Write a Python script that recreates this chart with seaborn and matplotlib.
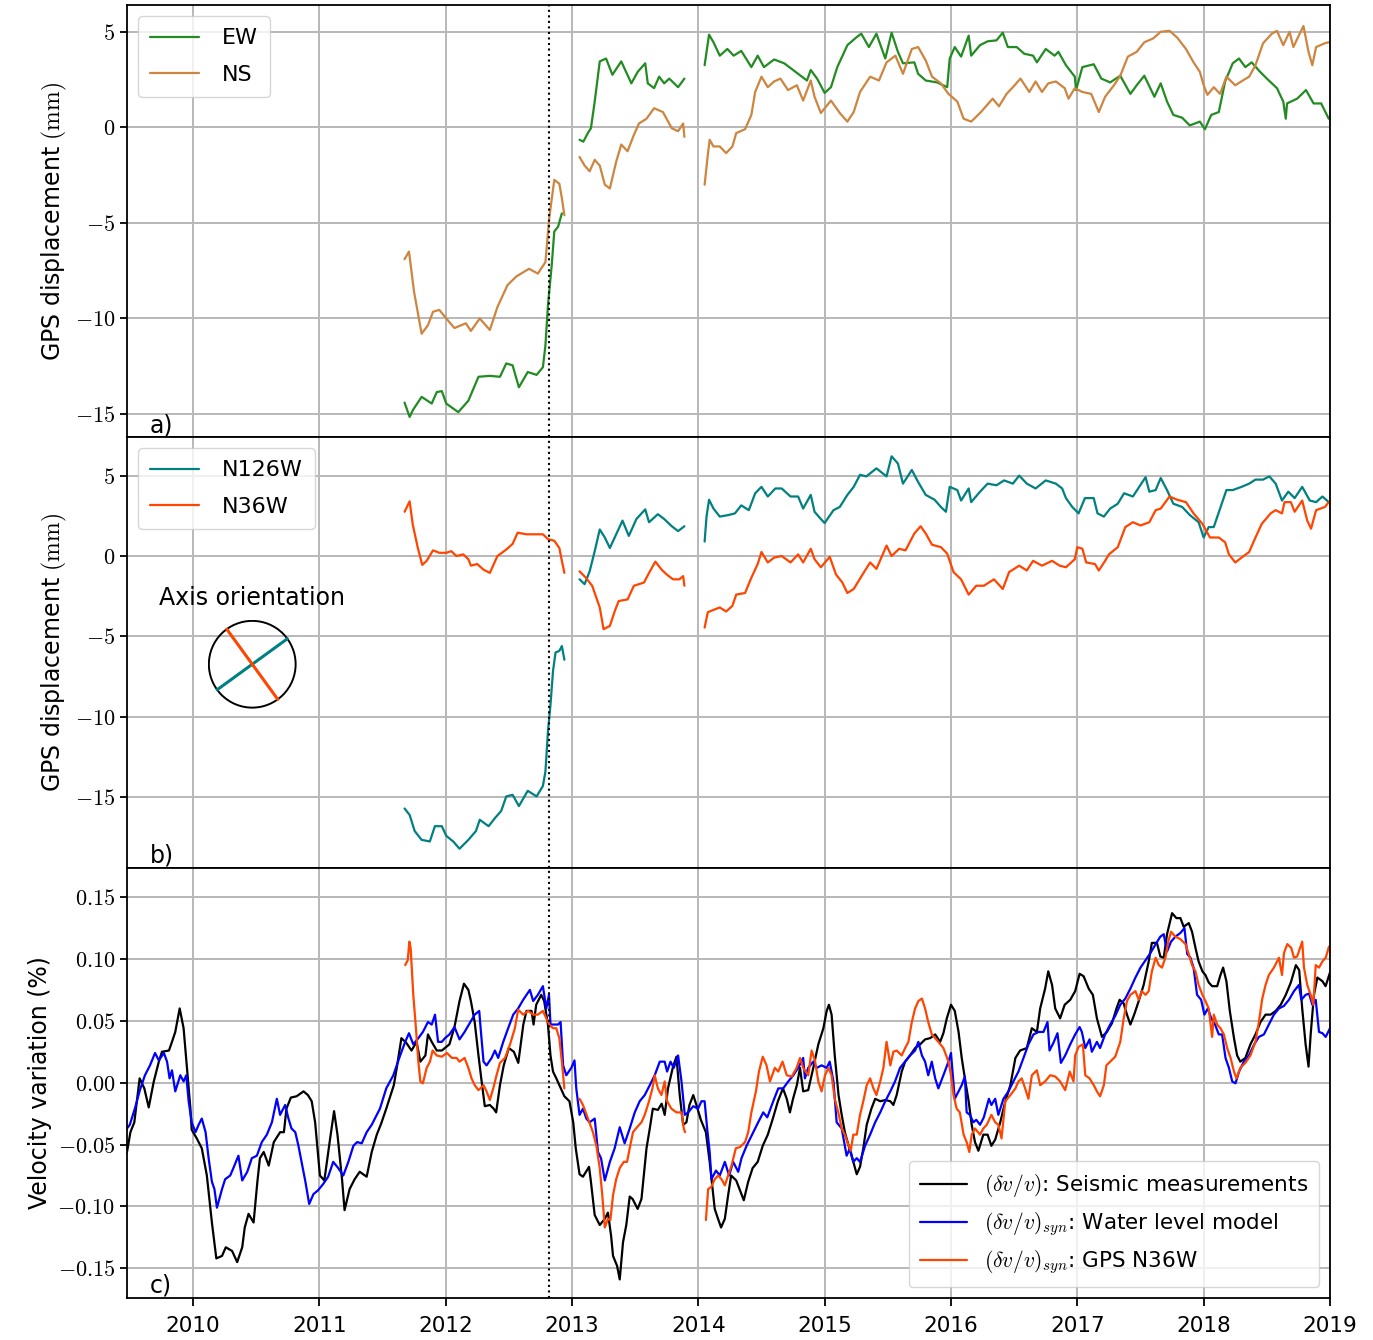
import numpy as np
import pandas as pd
import matplotlib
matplotlib.use('Agg')
import matplotlib.pyplot as plt
from matplotlib.lines import Line2D
from matplotlib.ticker import FuncFormatter
import seaborn as sns

# ---- data: (decimal year, value), one list per continuous segment ----
ew = [
    [(2011.675, -14.4), (2011.715, -15.15), (2011.74, -14.8), (2011.81, -14.1), (2011.89, -14.45),
     (2011.93, -13.85), (2011.97, -13.8), (2012.005, -14.45), (2012.1, -14.9), (2012.18, -14.3),
     (2012.26, -13.05), (2012.35, -13.0), (2012.43, -13.05), (2012.48, -12.35), (2012.53, -12.45),
     (2012.58, -13.6), (2012.65, -12.8), (2012.72, -12.95), (2012.77, -12.55), (2012.79, -11.4),
     (2012.81, -9.3), (2012.84, -7.2), (2012.86, -5.45), (2012.89, -5.2), (2012.92, -4.5)],
    [(2013.06, -0.65), (2013.09, -0.75), (2013.13, -0.25), (2013.15, -0.05), (2013.18, 1.35),
     (2013.22, 3.45), (2013.27, 3.6), (2013.32, 2.75), (2013.39, 3.45), (2013.47, 2.3),
     (2013.52, 2.9), (2013.58, 3.35), (2013.6, 2.3), (2013.65, 2.05), (2013.69, 2.65),
     (2013.73, 2.3), (2013.77, 2.55), (2013.84, 2.1), (2013.89, 2.55)],
    [(2014.05, 3.25), (2014.085, 4.85), (2014.12, 4.45), (2014.17, 3.75), (2014.23, 4.1),
     (2014.28, 3.75), (2014.34, 4.0), (2014.42, 3.15), (2014.47, 3.75), (2014.52, 3.15),
     (2014.6, 3.55), (2014.68, 3.35), (2014.74, 3.05), (2014.81, 2.7), (2014.86, 2.45),
     (2014.89, 3.0), (2014.94, 2.55), (2015.0, 1.8), (2015.05, 2.1), (2015.1, 3.15),
     (2015.18, 4.3), (2015.25, 4.7), (2015.29, 4.9), (2015.35, 4.2), (2015.41, 4.9),
     (2015.48, 3.6), (2015.53, 4.95), (2015.58, 3.95), (2015.62, 3.35), (2015.71, 3.4),
     (2015.74, 2.8), (2015.8, 2.45), (2015.89, 2.35), (2015.97, 2.1), (2015.99, 3.6),
     (2016.03, 4.2), (2016.08, 3.7), (2016.14, 4.8), (2016.16, 3.75), (2016.23, 4.3),
     (2016.29, 4.5), (2016.36, 4.55), (2016.41, 4.95), (2016.45, 4.2), (2016.52, 4.2),
     (2016.58, 3.85), (2016.65, 3.75), (2016.68, 3.4), (2016.75, 4.1), (2016.82, 3.75),
     (2016.85, 3.95), (2016.91, 3.25), (2016.98, 2.65), (2016.99, 1.95), (2017.04, 3.15),
     (2017.13, 3.3), (2017.19, 2.55), (2017.26, 2.35), (2017.34, 2.7), (2017.42, 1.75),
     (2017.47, 2.2), (2017.53, 2.7), (2017.61, 1.6), (2017.66, 2.3), (2017.71, 1.35),
     (2017.76, 0.65), (2017.83, 0.5), (2017.89, 0.1), (2017.97, 0.3), (2018.01, -0.1),
     (2018.06, 0.65), (2018.12, 0.8), (2018.17, 2.4), (2018.23, 3.35), (2018.28, 3.6),
     (2018.33, 3.15), (2018.38, 3.4), (2018.44, 2.95), (2018.5, 2.55), (2018.58, 2.05),
     (2018.63, 1.35), (2018.65, 0.45), (2018.66, 1.25), (2018.74, 1.5), (2018.81, 1.95),
     (2018.87, 1.25), (2018.93, 1.25), (2018.99, 0.45)],
]

ns = [
    [(2011.675, -6.9), (2011.71, -6.5), (2011.75, -8.6), (2011.81, -10.8), (2011.86, -10.35),
     (2011.9, -9.65), (2011.95, -9.55), (2012.005, -10.0), (2012.07, -10.5), (2012.16, -10.25),
     (2012.2, -10.65), (2012.27, -10.0), (2012.35, -10.6), (2012.41, -9.4), (2012.49, -8.25),
     (2012.56, -7.8), (2012.66, -7.4), (2012.73, -7.65), (2012.79, -7.05), (2012.82, -4.75),
     (2012.86, -2.75), (2012.9, -2.95), (2012.92, -3.7), (2012.94, -4.6)],
    [(2013.06, -1.55), (2013.1, -2.0), (2013.14, -2.3), (2013.18, -1.7), (2013.22, -2.0),
     (2013.26, -3.0), (2013.3, -3.2), (2013.35, -1.8), (2013.39, -0.9), (2013.44, -1.25),
     (2013.49, -0.4), (2013.53, 0.2), (2013.59, 0.45), (2013.65, 1.0), (2013.72, 0.8),
     (2013.79, -0.05), (2013.84, -0.2), (2013.88, 0.2), (2013.89, -0.5)],
    [(2014.05, -3.0), (2014.075, -1.45), (2014.09, -0.65), (2014.12, -1.0), (2014.17, -1.0),
     (2014.22, -1.35), (2014.27, -1.0), (2014.3, -0.3), (2014.37, -0.1), (2014.42, 0.65),
     (2014.45, 1.85), (2014.5, 2.65), (2014.55, 2.1), (2014.6, 2.4), (2014.65, 2.55),
     (2014.71, 1.95), (2014.78, 2.2), (2014.83, 1.4), (2014.89, 2.45), (2014.92, 1.6),
     (2014.97, 0.75), (2015.05, 1.4), (2015.12, 0.75), (2015.18, 0.3), (2015.23, 0.8),
     (2015.28, 1.85), (2015.36, 2.65), (2015.43, 2.45), (2015.49, 3.4), (2015.56, 3.75),
     (2015.62, 2.8), (2015.69, 4.1), (2015.74, 4.2), (2015.8, 3.5), (2015.85, 2.65),
     (2015.92, 2.3), (2015.98, 1.75), (2016.05, 1.35), (2016.1, 0.45), (2016.16, 0.3),
     (2016.23, 0.75), (2016.33, 1.5), (2016.38, 1.1), (2016.44, 1.75), (2016.49, 2.1),
     (2016.55, 2.55), (2016.62, 1.85), (2016.67, 2.4), (2016.72, 1.85), (2016.77, 2.3),
     (2016.83, 2.4), (2016.9, 2.05), (2016.93, 1.5), (2016.98, 2.05), (2017.04, 1.85),
     (2017.11, 1.75), (2017.17, 0.8), (2017.22, 1.6), (2017.29, 2.2), (2017.34, 2.7),
     (2017.4, 3.7), (2017.47, 3.95), (2017.53, 4.45), (2017.6, 4.65), (2017.66, 5.0),
     (2017.73, 5.05), (2017.79, 4.7), (2017.86, 4.1), (2017.92, 3.4), (2017.97, 2.9),
     (2018.0, 2.2), (2018.03, 1.7), (2018.08, 2.1), (2018.13, 1.75), (2018.18, 2.65),
     (2018.25, 2.2), (2018.31, 2.45), (2018.36, 2.65), (2018.41, 3.25), (2018.47, 4.4),
     (2018.54, 4.9), (2018.58, 5.05), (2018.63, 4.3), (2018.68, 5.0), (2018.71, 4.2),
     (2018.76, 4.9), (2018.79, 5.3), (2018.83, 3.95), (2018.86, 3.25), (2018.89, 4.2),
     (2018.96, 4.4), (2018.99, 4.45)],
]

n126w = [
    [(2011.675, -15.7), (2011.715, -16.1), (2011.755, -17.1), (2011.81, -17.65), (2011.875, -17.75),
     (2011.915, -16.8), (2011.97, -16.8), (2012.005, -17.4), (2012.06, -17.75), (2012.11, -18.2),
     (2012.18, -17.65), (2012.24, -17.1), (2012.27, -16.4), (2012.34, -16.8), (2012.39, -16.3),
     (2012.44, -15.85), (2012.48, -14.95), (2012.53, -14.85), (2012.58, -15.55), (2012.65, -14.6),
     (2012.72, -14.95), (2012.77, -14.3), (2012.79, -13.4), (2012.81, -10.9), (2012.83, -9.25),
     (2012.85, -7.15), (2012.87, -6.0), (2012.9, -5.9), (2012.92, -5.6), (2012.94, -6.45)],
    [(2013.06, -1.45), (2013.1, -1.75), (2013.14, -0.95), (2013.18, 0.3), (2013.22, 1.65),
     (2013.26, 1.15), (2013.3, 0.5), (2013.35, 1.35), (2013.4, 2.2), (2013.45, 1.25),
     (2013.51, 2.3), (2013.58, 2.9), (2013.61, 2.1), (2013.68, 2.6), (2013.73, 2.3),
     (2013.79, 1.85), (2013.84, 1.55), (2013.89, 1.85)],
    [(2014.05, 0.9), (2014.065, 2.45), (2014.085, 3.5), (2014.12, 2.95), (2014.17, 2.45),
     (2014.24, 2.55), (2014.29, 2.65), (2014.34, 3.15), (2014.4, 2.85), (2014.45, 3.9),
     (2014.5, 4.3), (2014.55, 3.7), (2014.61, 4.2), (2014.66, 4.2), (2014.73, 3.7),
     (2014.79, 3.7), (2014.83, 2.95), (2014.89, 3.8), (2014.92, 2.75), (2014.97, 2.3),
     (2015.0, 2.05), (2015.07, 2.85), (2015.12, 3.05), (2015.18, 3.8), (2015.23, 4.3),
     (2015.28, 5.05), (2015.33, 4.95), (2015.41, 5.45), (2015.49, 4.95), (2015.53, 6.2),
     (2015.58, 5.75), (2015.62, 4.5), (2015.69, 5.35), (2015.74, 4.6), (2015.8, 3.8),
     (2015.87, 3.5), (2015.92, 3.05), (2015.96, 2.75), (2015.99, 4.3), (2016.05, 4.1),
     (2016.08, 3.45), (2016.14, 4.2), (2016.16, 3.35), (2016.23, 4.0), (2016.29, 4.5),
     (2016.36, 4.4), (2016.42, 4.7), (2016.49, 4.5), (2016.54, 5.0), (2016.6, 4.5),
     (2016.67, 4.2), (2016.75, 4.7), (2016.83, 4.5), (2016.88, 4.2), (2016.91, 3.6),
     (2016.96, 3.05), (2017.01, 2.65), (2017.06, 3.6), (2017.13, 3.6), (2017.16, 2.65),
     (2017.21, 2.45), (2017.26, 2.95), (2017.32, 3.25), (2017.37, 3.9), (2017.44, 3.7),
     (2017.49, 4.3), (2017.54, 4.9), (2017.57, 4.0), (2017.62, 4.1), (2017.66, 4.85),
     (2017.71, 4.1), (2017.76, 3.25), (2017.83, 3.05), (2017.89, 2.55), (2017.96, 2.1),
     (2018.0, 1.15), (2018.04, 1.8), (2018.08, 1.8), (2018.13, 2.95), (2018.18, 4.1),
     (2018.23, 4.1), (2018.3, 4.3), (2018.36, 4.5), (2018.41, 4.75), (2018.47, 4.75),
     (2018.52, 4.95), (2018.57, 4.5), (2018.62, 3.45), (2018.67, 4.0), (2018.72, 3.6),
     (2018.78, 4.3), (2018.84, 3.45), (2018.89, 3.35), (2018.94, 3.7), (2018.99, 3.35)],
]

n36w = [
    [(2011.675, 2.75), (2011.715, 3.4), (2011.74, 1.95), (2011.78, 0.5), (2011.815, -0.55),
     (2011.85, -0.3), (2011.9, 0.35), (2011.95, 0.2), (2012.005, 0.2), (2012.045, 0.3),
     (2012.085, 0.0), (2012.14, 0.1), (2012.18, -0.2), (2012.2, -0.6), (2012.25, -0.5),
     (2012.3, -0.85), (2012.35, -1.05), (2012.41, 0.0), (2012.48, 0.4), (2012.53, 0.75),
     (2012.57, 1.45), (2012.64, 1.35), (2012.7, 1.35), (2012.77, 1.35), (2012.81, 1.05),
     (2012.86, 0.95), (2012.9, 0.5), (2012.92, -0.3), (2012.94, -1.05)],
    [(2013.06, -0.95), (2013.11, -1.35), (2013.16, -1.85), (2013.22, -3.2), (2013.25, -4.55),
     (2013.3, -4.35), (2013.34, -3.4), (2013.37, -2.8), (2013.44, -2.7), (2013.49, -1.85),
     (2013.57, -1.65), (2013.61, -1.05), (2013.66, -0.35), (2013.71, -0.85), (2013.75, -1.15),
     (2013.8, -1.45), (2013.85, -1.45), (2013.88, -1.25), (2013.89, -1.85)],
    [(2014.05, -4.45), (2014.075, -3.5), (2014.12, -3.35), (2014.17, -3.2), (2014.22, -3.45),
     (2014.27, -3.1), (2014.3, -2.4), (2014.37, -2.3), (2014.42, -1.35), (2014.47, -0.5),
     (2014.5, 0.25), (2014.55, -0.4), (2014.6, -0.1), (2014.66, 0.0), (2014.73, -0.4),
     (2014.79, 0.1), (2014.83, -0.4), (2014.89, 0.45), (2014.92, -0.2), (2014.97, -0.7),
     (2015.04, -0.05), (2015.09, -1.15), (2015.14, -1.65), (2015.18, -2.3), (2015.23, -2.05),
     (2015.3, -1.15), (2015.36, -0.4), (2015.41, -0.8), (2015.49, 0.65), (2015.53, 0.0),
     (2015.59, 0.45), (2015.64, 0.35), (2015.71, 1.4), (2015.76, 1.85), (2015.8, 1.4),
     (2015.85, 0.7), (2015.92, 0.55), (2015.97, 0.15), (2016.02, -1.0), (2016.08, -1.45),
     (2016.14, -2.4), (2016.2, -1.85), (2016.26, -1.85), (2016.34, -1.45), (2016.41, -2.05),
     (2016.46, -1.0), (2016.54, -0.6), (2016.6, -0.9), (2016.65, -0.3), (2016.72, -0.6),
     (2016.8, -0.3), (2016.86, -0.6), (2016.91, -0.7), (2016.98, -0.2), (2017.0, 0.55),
     (2017.04, 0.45), (2017.07, -0.4), (2017.14, -0.5), (2017.17, -0.9), (2017.22, -0.3),
     (2017.25, 0.1), (2017.32, 0.55), (2017.38, 1.8), (2017.44, 2.1), (2017.5, 1.9),
     (2017.57, 2.1), (2017.62, 2.85), (2017.66, 2.95), (2017.73, 3.7), (2017.79, 3.5),
     (2017.86, 3.35), (2017.92, 2.65), (2017.99, 2.0), (2018.05, 1.15), (2018.12, 1.15),
     (2018.17, 0.85), (2018.2, 0.1), (2018.25, -0.4), (2018.3, -0.1), (2018.36, 0.25),
     (2018.41, 1.15), (2018.46, 2.0), (2018.53, 2.65), (2018.57, 2.85), (2018.62, 2.65),
     (2018.64, 3.35), (2018.69, 3.35), (2018.72, 2.75), (2018.78, 3.45), (2018.82, 2.2),
     (2018.85, 1.7), (2018.89, 2.85), (2018.96, 3.05), (2018.99, 3.35)],
]

seismic = [
    [(2009.478, -0.056), (2009.505, -0.040), (2009.536, -0.032), (2009.578, 0.0035), (2009.615, -0.0046),
     (2009.65, -0.020), (2009.69, 0.001), (2009.73, 0.017), (2009.755, 0.025), (2009.81, 0.026),
     (2009.834, 0.033), (2009.86, 0.041), (2009.895, 0.060), (2009.926, 0.044), (2009.953, 0.012),
     (2009.98, -0.021), (2009.99, -0.038), (2010.03, -0.045), (2010.07, -0.053), (2010.11, -0.075),
     (2010.15, -0.113), (2010.185, -0.142), (2010.23, -0.140), (2010.26, -0.133), (2010.31, -0.136),
     (2010.35, -0.145), (2010.39, -0.133), (2010.41, -0.117), (2010.44, -0.106), (2010.48, -0.113),
     (2010.51, -0.080), (2010.53, -0.061), (2010.56, -0.056), (2010.6, -0.067), (2010.64, -0.048),
     (2010.69, -0.040), (2010.72, -0.040), (2010.74, -0.021), (2010.775, -0.012), (2010.82, -0.011),
     (2010.875, -0.007), (2010.91, -0.010), (2010.94, -0.015), (2010.967, -0.032), (2011.005, -0.075),
     (2011.04, -0.079), (2011.086, -0.045), (2011.117, -0.023), (2011.144, -0.042), (2011.18, -0.078),
     (2011.2, -0.103), (2011.24, -0.086), (2011.28, -0.078), (2011.32, -0.072), (2011.375, -0.076),
     (2011.415, -0.056), (2011.455, -0.042), (2011.49, -0.033), (2011.53, -0.021), (2011.59, -0.002),
     (2011.61, 0.010), (2011.65, 0.036), (2011.69, 0.032), (2011.73, 0.026), (2011.77, 0.033),
     (2011.8, 0.017), (2011.84, 0.022), (2011.86, 0.039), (2011.89, 0.033), (2011.93, 0.026),
     (2011.97, 0.026), (2012.03, 0.031), (2012.07, 0.045), (2012.11, 0.066), (2012.145, 0.080),
     (2012.18, 0.075), (2012.2, 0.066), (2012.23, 0.049), (2012.26, 0.022), (2012.285, 0.001),
     (2012.31, -0.019), (2012.35, -0.018), (2012.38, -0.021), (2012.4, -0.024), (2012.43, -0.002),
     (2012.46, 0.014), (2012.5, 0.028), (2012.54, 0.025), (2012.575, 0.016), (2012.615, 0.047),
     (2012.64, 0.058), (2012.68, 0.058), (2012.696, 0.047), (2012.717, 0.063), (2012.757, 0.071),
     (2012.78, 0.066), (2012.81, 0.047), (2012.83, 0.022), (2012.85, 0.009), (2012.876, 0.0035),
     (2012.9, -0.002), (2012.94, -0.011), (2012.98, -0.015), (2013.01, -0.032), (2013.03, -0.053),
     (2013.06, -0.074), (2013.087, -0.076), (2013.135, -0.068), (2013.15, -0.080), (2013.18, -0.107),
     (2013.22, -0.115), (2013.26, -0.110), (2013.285, -0.105), (2013.31, -0.124), (2013.325, -0.140),
     (2013.357, -0.148), (2013.378, -0.159), (2013.404, -0.129), (2013.43, -0.115), (2013.457, -0.092),
     (2013.48, -0.094), (2013.52, -0.102), (2013.55, -0.094), (2013.59, -0.053), (2013.616, -0.037),
     (2013.64, -0.021), (2013.68, -0.022), (2013.71, -0.017), (2013.734, -0.026), (2013.76, -0.0046),
     (2013.8, 0.013), (2013.827, 0.021), (2013.853, -0.010), (2013.88, -0.034), (2013.906, -0.032),
     (2013.93, -0.018), (2013.96, -0.010), (2013.985, -0.018), (2014.02, -0.030), (2014.06, -0.040),
     (2014.09, -0.064), (2014.13, -0.102), (2014.156, -0.110), (2014.18, -0.117), (2014.21, -0.110),
     (2014.236, -0.091), (2014.26, -0.075), (2014.3, -0.079), (2014.33, -0.087), (2014.36, -0.095),
     (2014.395, -0.080), (2014.43, -0.069), (2014.47, -0.064), (2014.51, -0.051), (2014.55, -0.042),
     (2014.59, -0.029), (2014.63, -0.015), (2014.67, -0.0046), (2014.7, -0.013), (2014.725, -0.024),
     (2014.75, -0.013), (2014.78, -0.002), (2014.805, 0.012), (2014.83, -0.007), (2014.87, -0.006),
     (2014.91, 0.012), (2014.95, 0.031), (2014.99, 0.044), (2015.016, 0.058), (2015.034, 0.063),
     (2015.055, 0.055), (2015.08, 0.022), (2015.11, -0.010), (2015.135, -0.026), (2015.16, -0.040),
     (2015.19, -0.051), (2015.227, -0.064), (2015.254, -0.074), (2015.28, -0.068), (2015.306, -0.053),
     (2015.333, -0.034), (2015.37, -0.021), (2015.4, -0.013), (2015.44, -0.015), (2015.48, -0.014),
     (2015.52, -0.015), (2015.544, -0.018), (2015.57, -0.010), (2015.61, 0.009), (2015.637, 0.017),
     (2015.676, 0.022), (2015.716, 0.028), (2015.756, 0.031), (2015.795, 0.035), (2015.835, 0.036),
     (2015.875, 0.039), (2015.914, 0.033), (2015.94, 0.040), (2015.967, 0.052), (2016.0, 0.063),
     (2016.03, 0.058), (2016.06, 0.041), (2016.085, 0.020), (2016.11, 0.0035), (2016.14, -0.015),
     (2016.164, -0.034), (2016.19, -0.048), (2016.217, -0.055), (2016.256, -0.042), (2016.29, -0.042),
     (2016.32, -0.051), (2016.35, -0.046), (2016.39, -0.032), (2016.43, -0.015), (2016.47, -0.002),
     (2016.51, 0.020), (2016.547, 0.026), (2016.6, 0.028), (2016.64, 0.044), (2016.68, 0.041),
     (2016.706, 0.060), (2016.745, 0.076), (2016.77, 0.090), (2016.8, 0.079), (2016.825, 0.060),
     (2016.864, 0.052), (2016.9, 0.063), (2016.944, 0.067), (2016.983, 0.074), (2017.018, 0.088),
     (2017.05, 0.086), (2017.09, 0.076), (2017.123, 0.071), (2017.155, 0.052), (2017.195, 0.037),
     (2017.234, 0.041), (2017.274, 0.048), (2017.31, 0.060), (2017.335, 0.067), (2017.367, 0.064),
     (2017.393, 0.055), (2017.42, 0.047), (2017.45, 0.055), (2017.486, 0.066), (2017.525, 0.079),
     (2017.565, 0.098), (2017.59, 0.113), (2017.63, 0.113), (2017.657, 0.102), (2017.684, 0.101),
     (2017.71, 0.120), (2017.75, 0.137), (2017.784, 0.133), (2017.816, 0.133), (2017.842, 0.126),
     (2017.882, 0.129), (2017.908, 0.122), (2017.935, 0.109), (2017.96, 0.098), (2017.99, 0.090),
     (2018.014, 0.087), (2018.04, 0.081), (2018.067, 0.078), (2018.107, 0.078), (2018.133, 0.087),
     (2018.154, 0.093), (2018.18, 0.082), (2018.207, 0.058), (2018.24, 0.036), (2018.265, 0.022),
     (2018.29, 0.017), (2018.33, 0.020), (2018.37, 0.031), (2018.41, 0.039), (2018.45, 0.049),
     (2018.49, 0.055), (2018.53, 0.055), (2018.57, 0.058), (2018.61, 0.063), (2018.65, 0.071),
     (2018.69, 0.081), (2018.73, 0.095), (2018.756, 0.091), (2018.78, 0.060), (2018.807, 0.031),
     (2018.83, 0.013), (2018.847, 0.039), (2018.873, 0.071), (2018.9, 0.085), (2018.94, 0.082),
     (2018.965, 0.078), (2019.0, 0.089)],
]

water = [
    [(2009.478, -0.037), (2009.5, -0.034), (2009.54, -0.021), (2009.58, -0.006), (2009.62, 0.006),
     (2009.66, 0.014), (2009.7, 0.024), (2009.73, 0.018), (2009.77, 0.024), (2009.795, 0.017),
     (2009.815, 0.0035), (2009.834, 0.010), (2009.86, -0.007), (2009.9, 0.006), (2009.926, 0.001),
     (2009.947, 0.006), (2009.966, -0.015), (2009.99, -0.032), (2010.02, -0.040), (2010.045, -0.034),
     (2010.07, -0.029), (2010.1, -0.040), (2010.124, -0.061), (2010.15, -0.080), (2010.17, -0.086),
     (2010.19, -0.101), (2010.23, -0.086), (2010.255, -0.078), (2010.295, -0.075), (2010.32, -0.069),
     (2010.36, -0.059), (2010.39, -0.079), (2010.43, -0.072), (2010.466, -0.061), (2010.506, -0.059),
     (2010.545, -0.048), (2010.585, -0.042), (2010.625, -0.032), (2010.664, -0.013), (2010.69, -0.026),
     (2010.73, -0.018), (2010.756, -0.029), (2010.78, -0.037), (2010.81, -0.040), (2010.835, -0.051),
     (2010.86, -0.064), (2010.89, -0.080), (2010.92, -0.098), (2010.954, -0.090), (2010.99, -0.087),
     (2011.03, -0.082), (2011.07, -0.076), (2011.11, -0.064), (2011.15, -0.069), (2011.19, -0.075),
     (2011.23, -0.064), (2011.27, -0.051), (2011.3, -0.048), (2011.336, -0.049), (2011.375, -0.040),
     (2011.415, -0.034), (2011.44, -0.029), (2011.48, -0.021), (2011.53, -0.0046), (2011.586, 0.006),
     (2011.64, 0.022), (2011.68, 0.033), (2011.71, 0.040), (2011.744, 0.031), (2011.784, 0.036),
     (2011.82, 0.041), (2011.86, 0.049), (2011.89, 0.047), (2011.916, 0.055), (2011.94, 0.033),
     (2011.97, 0.033), (2011.995, 0.036), (2012.03, 0.039), (2012.07, 0.045), (2012.11, 0.035),
     (2012.15, 0.041), (2012.19, 0.048), (2012.23, 0.055), (2012.266, 0.058), (2012.277, 0.044),
     (2012.3, 0.017), (2012.324, 0.014), (2012.364, 0.020), (2012.39, 0.026), (2012.416, 0.020),
     (2012.456, 0.033), (2012.495, 0.044), (2012.535, 0.055), (2012.574, 0.060), (2012.614, 0.067),
     (2012.667, 0.075), (2012.693, 0.066), (2012.73, 0.071), (2012.77, 0.078), (2012.797, 0.060),
     (2012.818, 0.071), (2012.83, 0.047), (2012.863, 0.047), (2012.89, 0.047), (2012.91, 0.049),
     (2012.93, 0.014), (2012.955, 0.006), (2012.995, 0.012), (2013.02, 0.018), (2013.034, -0.0046),
     (2013.06, -0.026), (2013.087, -0.021), (2013.114, -0.029), (2013.14, -0.032), (2013.18, -0.029),
     (2013.206, -0.056), (2013.23, -0.061), (2013.26, -0.079), (2013.3, -0.064), (2013.338, -0.053),
     (2013.378, -0.036), (2013.417, -0.049), (2013.457, -0.037), (2013.497, -0.024), (2013.536, -0.015),
     (2013.576, -0.010), (2013.616, -0.002), (2013.655, 0.006), (2013.695, 0.017), (2013.734, 0.017),
     (2013.753, 0.009), (2013.78, 0.017), (2013.806, 0.012), (2013.84, 0.022), (2013.867, 0.001),
     (2013.893, -0.026), (2013.92, -0.024), (2013.96, -0.019), (2013.998, -0.021), (2014.025, -0.015),
     (2014.05, -0.015), (2014.07, -0.037), (2014.09, -0.056), (2014.104, -0.078), (2014.14, -0.071),
     (2014.17, -0.075), (2014.21, -0.064), (2014.244, -0.075), (2014.276, -0.064), (2014.316, -0.072),
     (2014.342, -0.061), (2014.382, -0.051), (2014.435, -0.040), (2014.474, -0.032), (2014.514, -0.024),
     (2014.546, -0.028), (2014.593, -0.015), (2014.633, -0.0046), (2014.672, -0.0046), (2014.712, 0.001),
     (2014.752, 0.006), (2014.79, 0.012), (2014.83, 0.020), (2014.844, 0.0035), (2014.87, 0.012),
     (2014.91, 0.017), (2014.937, 0.012), (2014.976, 0.014), (2015.016, 0.012), (2015.04, 0.017),
     (2015.07, 0.001), (2015.095, -0.032), (2015.135, -0.037), (2015.174, -0.059), (2015.2, -0.053),
     (2015.227, -0.064), (2015.254, -0.061), (2015.28, -0.064), (2015.32, -0.051), (2015.36, -0.042),
     (2015.4, -0.032), (2015.44, -0.024), (2015.48, -0.015), (2015.52, -0.007), (2015.557, 0.001),
     (2015.597, 0.012), (2015.637, 0.017), (2015.676, 0.022), (2015.716, 0.026), (2015.742, 0.033),
     (2015.77, 0.022), (2015.795, 0.017), (2015.82, 0.006), (2015.848, 0.017), (2015.875, 0.0035),
     (2015.9, -0.0046), (2015.94, 0.006), (2015.98, 0.017), (2016.0, 0.024), (2016.03, -0.013),
     (2016.06, -0.007), (2016.085, -0.002), (2016.11, 0.005), (2016.124, -0.024), (2016.15, -0.026),
     (2016.177, -0.032), (2016.2, -0.030), (2016.23, -0.034), (2016.26, -0.028), (2016.3, -0.013),
     (2016.32, -0.018), (2016.35, -0.013), (2016.375, -0.026), (2016.415, -0.013), (2016.455, -0.007),
     (2016.494, 0.001), (2016.534, 0.009), (2016.574, 0.020), (2016.613, 0.031), (2016.653, 0.039),
     (2016.693, 0.041), (2016.732, 0.041), (2016.764, 0.049), (2016.78, 0.026), (2016.81, 0.032),
     (2016.843, 0.040), (2016.87, 0.016), (2016.904, 0.022), (2016.944, 0.031), (2016.983, 0.039),
     (2017.018, 0.045), (2017.036, 0.041), (2017.063, 0.028), (2017.097, 0.035), (2017.115, 0.025),
     (2017.155, 0.033), (2017.18, 0.028), (2017.22, 0.039), (2017.26, 0.047), (2017.3, 0.054),
     (2017.34, 0.063), (2017.38, 0.068), (2017.42, 0.076), (2017.46, 0.085), (2017.5, 0.093),
     (2017.54, 0.099), (2017.58, 0.105), (2017.62, 0.112), (2017.657, 0.118), (2017.684, 0.120),
     (2017.71, 0.106), (2017.742, 0.114), (2017.776, 0.118), (2017.816, 0.121), (2017.848, 0.125),
     (2017.87, 0.104), (2017.895, 0.101), (2017.92, 0.093), (2017.948, 0.071), (2017.98, 0.067),
     (2018.006, 0.055), (2018.033, 0.060), (2018.06, 0.052), (2018.09, 0.047), (2018.12, 0.039),
     (2018.146, 0.039), (2018.173, 0.020), (2018.2, 0.012), (2018.226, 0.001), (2018.252, -0.0005),
     (2018.28, 0.009), (2018.318, 0.017), (2018.358, 0.022), (2018.4, 0.031), (2018.437, 0.037),
     (2018.477, 0.039), (2018.516, 0.047), (2018.556, 0.055), (2018.596, 0.060), (2018.635, 0.062),
     (2018.675, 0.067), (2018.715, 0.074), (2018.754, 0.079), (2018.773, 0.067), (2018.807, 0.071),
     (2018.834, 0.072), (2018.86, 0.063), (2018.887, 0.067), (2018.913, 0.041), (2018.94, 0.040),
     (2018.966, 0.037), (2019.0, 0.044)],
]

gps_syn = [
    [(2011.68, 0.095), (2011.7, 0.099), (2011.713, 0.114), (2011.723, 0.109), (2011.744, 0.071),
     (2011.765, 0.044), (2011.784, 0.017), (2011.8, 0.001), (2011.82, -0.0005), (2011.85, 0.012),
     (2011.876, 0.017), (2011.897, 0.026), (2011.93, 0.022), (2011.97, 0.021), (2012.01, 0.024),
     (2012.05, 0.020), (2012.087, 0.020), (2012.11, 0.017), (2012.15, 0.020), (2012.18, 0.012),
     (2012.205, 0.0035), (2012.23, -0.002), (2012.26, -0.006), (2012.3, -0.002), (2012.324, -0.007),
     (2012.35, -0.014), (2012.377, -0.0046), (2012.403, 0.006), (2012.43, 0.016), (2012.47, 0.020),
     (2012.51, 0.031), (2012.548, 0.044), (2012.574, 0.059), (2012.614, 0.055), (2012.653, 0.058),
     (2012.693, 0.055), (2012.73, 0.055), (2012.77, 0.058), (2012.797, 0.052), (2012.82, 0.047),
     (2012.85, 0.044), (2012.876, 0.044), (2012.9, 0.036), (2012.92, 0.017), (2012.94, -0.0046)],
    [(2013.06, -0.013), (2013.087, -0.018), (2013.127, -0.029), (2013.166, -0.040), (2013.193, -0.051),
     (2013.22, -0.069), (2013.24, -0.091), (2013.26, -0.117), (2013.285, -0.110), (2013.304, -0.111),
     (2013.325, -0.091), (2013.35, -0.078), (2013.378, -0.069), (2013.41, -0.064), (2013.436, -0.064),
     (2013.457, -0.053), (2013.483, -0.040), (2013.515, -0.036), (2013.55, -0.032), (2013.576, -0.026),
     (2013.61, -0.015), (2013.637, -0.0046), (2013.655, 0.006), (2013.68, -0.0046), (2013.708, -0.010),
     (2013.734, 0.001), (2013.753, -0.015), (2013.787, -0.021), (2013.827, -0.024), (2013.867, -0.024),
     (2013.885, -0.037), (2013.895, -0.040)],
    [(2014.06, -0.111), (2014.078, -0.086), (2014.104, -0.084), (2014.13, -0.078), (2014.157, -0.075),
     (2014.184, -0.078), (2014.21, -0.083), (2014.236, -0.075), (2014.263, -0.067), (2014.297, -0.053),
     (2014.33, -0.052), (2014.37, -0.048), (2014.395, -0.040), (2014.42, -0.024), (2014.456, -0.007),
     (2014.48, 0.009), (2014.51, 0.021), (2014.54, 0.014), (2014.567, 0.001), (2014.606, 0.012),
     (2014.633, 0.009), (2014.667, 0.017), (2014.7, 0.006), (2014.74, 0.005), (2014.778, 0.012),
     (2014.805, 0.020), (2014.83, 0.012), (2014.87, 0.006), (2014.897, 0.026), (2014.923, 0.018),
     (2014.95, 0.001), (2014.976, -0.007), (2015.003, 0.006), (2015.03, 0.012), (2015.055, 0.006),
     (2015.08, -0.013), (2015.108, -0.024), (2015.135, -0.037), (2015.16, -0.042), (2015.19, -0.051),
     (2015.206, -0.055), (2015.227, -0.042), (2015.254, -0.042), (2015.28, -0.026), (2015.306, -0.015),
     (2015.333, -0.002), (2015.36, 0.0035), (2015.386, -0.0046), (2015.41, -0.010), (2015.44, 0.001),
     (2015.465, 0.012), (2015.49, 0.033), (2015.52, 0.014), (2015.544, 0.025), (2015.57, 0.026),
     (2015.61, 0.022), (2015.637, 0.028), (2015.663, 0.033), (2015.69, 0.049), (2015.716, 0.060),
     (2015.742, 0.066), (2015.77, 0.068), (2015.795, 0.060), (2015.82, 0.049), (2015.848, 0.039),
     (2015.875, 0.036), (2015.9, 0.033), (2015.94, 0.028), (2015.98, 0.017), (2016.0, 0.006),
     (2016.02, -0.010), (2016.045, -0.021), (2016.07, -0.024), (2016.1, -0.042), (2016.124, -0.048),
     (2016.145, -0.056), (2016.164, -0.042), (2016.19, -0.037), (2016.23, -0.042), (2016.256, -0.037),
     (2016.283, -0.034), (2016.32, -0.026), (2016.35, -0.032), (2016.375, -0.034), (2016.4, -0.045),
     (2016.43, -0.015), (2016.47, -0.010), (2016.51, -0.0046), (2016.534, 0.001), (2016.56, 0.0035),
     (2016.587, -0.0046), (2016.613, -0.013), (2016.64, 0.006), (2016.68, 0.010), (2016.706, -0.002),
     (2016.745, 0.001), (2016.785, 0.006), (2016.825, 0.005), (2016.864, 0.001), (2016.904, -0.006),
     (2016.94, 0.009), (2016.97, 0.001), (2016.983, 0.022), (2017.01, 0.029), (2017.044, 0.031),
     (2017.063, 0.006), (2017.097, 0.0035), (2017.13, -0.002), (2017.155, -0.007), (2017.18, -0.011),
     (2017.21, -0.002), (2017.23, 0.014), (2017.26, 0.017), (2017.3, 0.021), (2017.34, 0.033),
     (2017.367, 0.052), (2017.393, 0.066), (2017.42, 0.071), (2017.46, 0.074), (2017.486, 0.067),
     (2017.51, 0.074), (2017.54, 0.071), (2017.565, 0.074), (2017.59, 0.090), (2017.62, 0.101),
     (2017.645, 0.095), (2017.67, 0.093), (2017.697, 0.101), (2017.72, 0.114), (2017.742, 0.122),
     (2017.776, 0.118), (2017.816, 0.116), (2017.856, 0.112), (2017.882, 0.104), (2017.908, 0.095),
     (2017.935, 0.090), (2017.96, 0.079), (2017.99, 0.071), (2018.014, 0.066), (2018.04, 0.060),
     (2018.067, 0.037), (2018.08, 0.055), (2018.107, 0.047), (2018.133, 0.044), (2018.16, 0.039),
     (2018.186, 0.028), (2018.213, 0.020), (2018.24, 0.009), (2018.26, 0.0035), (2018.29, 0.012),
     (2018.33, 0.016), (2018.37, 0.022), (2018.41, 0.033), (2018.437, 0.049), (2018.464, 0.068),
     (2018.49, 0.079), (2018.516, 0.087), (2018.556, 0.093), (2018.596, 0.101), (2018.62, 0.087),
     (2018.636, 0.105), (2018.662, 0.112), (2018.693, 0.109), (2018.715, 0.101), (2018.74, 0.102),
     (2018.78, 0.114), (2018.794, 0.093), (2018.82, 0.079), (2018.847, 0.071), (2018.868, 0.063),
     (2018.887, 0.095), (2018.913, 0.093), (2018.94, 0.098), (2018.966, 0.101), (2018.992, 0.110)],
]

event_year = 2012.815          # dotted vertical marker
axis_angles = [36, -54]        # drawn directions of N126W / N36W in the inset (deg)
year_ticks = list(range(2010, 2020))


def to_frame(segments, name):
    rows = [(name, i, t, v) for i, seg in enumerate(segments) for t, v in seg]
    return pd.DataFrame(rows, columns=['series', 'seg', 't', 'v'])


sns.set_theme(style='whitegrid', rc={
    'axes.edgecolor': 'black', 'axes.linewidth': 1.3,
    'grid.color': '#b8b8b8', 'grid.linewidth': 1.4,
    'xtick.bottom': True, 'ytick.left': True,
    'xtick.color': 'black', 'ytick.color': 'black',
    'xtick.major.size': 6, 'ytick.major.size': 5,
    'xtick.major.width': 1.3, 'ytick.major.width': 1.3,
    'text.color': 'black', 'axes.labelcolor': 'black',
})
plt.rcParams['font.family'] = ['DejaVu Sans']
plt.rcParams['mathtext.fontset'] = 'cm'

fig = plt.figure(figsize=(13.73, 13.40), dpi=100)
L, W = 127 / 1373, (1330 - 127) / 1373
ax_a = fig.add_axes([L, 1 - 437 / 1340, W, 432 / 1340])
ax_b = fig.add_axes([L, 1 - 868 / 1340, W, 431 / 1340], sharex=ax_a)
ax_c = fig.add_axes([L, 1 - 1298 / 1340, W, 430 / 1340], sharex=ax_a)

panels = [
    (ax_a, [(ew, 'EW', '#228B22'), (ns, 'NS', '#CD853F')], (-16.2, 6.4), [-15, -10, -5, 0, 5]),
    (ax_b, [(n126w, 'N126W', '#008080'), (n36w, 'N36W', '#FF4500')], (-19.4, 7.4), [-15, -10, -5, 0, 5]),
    (ax_c, [(seismic, r'$(\delta v/v)$: Seismic measurements', 'black'),
            (water, r'$(\delta v/v)_{syn}$: Water level model', '#0000FF'),
            (gps_syn, r'$(\delta v/v)_{syn}$: GPS N36W', '#FF4500')],
     (-0.174, 0.1735), [-0.15, -0.10, -0.05, 0.0, 0.05, 0.10, 0.15]),
]

for ax, series, ylim, yticks in panels:
    df = pd.concat([to_frame(s, name) for s, name, _ in series], ignore_index=True)
    palette = {name: c for _, name, c in series}
    sns.lineplot(data=df, x='t', y='v', hue='series', units='seg', estimator=None,
                 sort=False, palette=palette, linewidth=1.6, legend=False, ax=ax)
    ax.axvline(event_year, color='black', linestyle=':', linewidth=1.5)
    ax.set_ylim(*ylim)
    ax.set_yticks(yticks)
    ax.set_xlabel('')
    ax.tick_params(axis='y', labelsize=16)
    for sp in ax.spines.values():
        sp.set_color('black')
    handles = [Line2D([], [], color=c, lw=1.6) for _, _, c in series]
    labels = [name for _, name, _ in series]
    if ax is ax_c:
        ax.legend(handles, labels, loc='lower right', fontsize=15.5, framealpha=0.8,
                  edgecolor='0.8', handlelength=2.2, borderpad=0.5)
    else:
        ax.legend(handles, labels, loc='upper left', fontsize=16, framealpha=0.8,
                  edgecolor='0.8', handlelength=2.2, handletextpad=1.0,
                  labelspacing=0.75, borderpad=0.55)

ax_a.yaxis.set_major_formatter(FuncFormatter(lambda v, p: f'${v:.0f}$'))
ax_b.yaxis.set_major_formatter(FuncFormatter(lambda v, p: f'${v:.0f}$'))
ax_c.yaxis.set_major_formatter(FuncFormatter(lambda v, p: f'${v:.2f}$'.replace('-0.00', '0.00')))

ax_a.set_ylabel(r'GPS displacement $\mathrm{(mm)}$', fontsize=17)
ax_b.set_ylabel(r'GPS displacement $\mathrm{(mm)}$', fontsize=17)
ax_c.set_ylabel('Velocity variation (%)', fontsize=17)

ax_c.set_xlim(2009.478, 2019.0)
ax_c.set_xticks(year_ticks)
ax_c.set_xticklabels([str(y) for y in year_ticks])
ax_c.tick_params(axis='x', labelsize=15.5, pad=7)
for ax in (ax_a, ax_b):
    ax.tick_params(axis='x', length=0, labelbottom=False)

for ax, tag in zip((ax_a, ax_b, ax_c), ('a)', 'b)', 'c)')):
    ax.text(0.019, 0.0, tag, transform=ax.transAxes, fontsize=17, va='bottom', ha='left')

# axis-orientation inset in panel b
ax_b.text((252 - 127) / 1203, 1 - (598 - 437) / 431, 'Axis orientation',
          transform=ax_b.transAxes, fontsize=17, ha='center', va='center')
ins = fig.add_axes([208 / 1373, 1 - 708.5 / 1340, 88.5 / 1373, 88.5 / 1340])
ins.set_xlim(-1.02, 1.02)
ins.set_ylim(-1.02, 1.02)
ins.set_aspect('equal')
ins.axis('off')
ins.add_patch(plt.Circle((0, 0), 1.0, fill=False, color='black', lw=1.4))
for ang, col in zip(axis_angles, ['#008080', '#FF4500']):
    dx, dy = np.cos(np.radians(ang)), np.sin(np.radians(ang))
    ins.plot([-dx, dx], [-dy, dy], color=col, lw=2.2)

fig.savefig('out.png', dpi=100)
